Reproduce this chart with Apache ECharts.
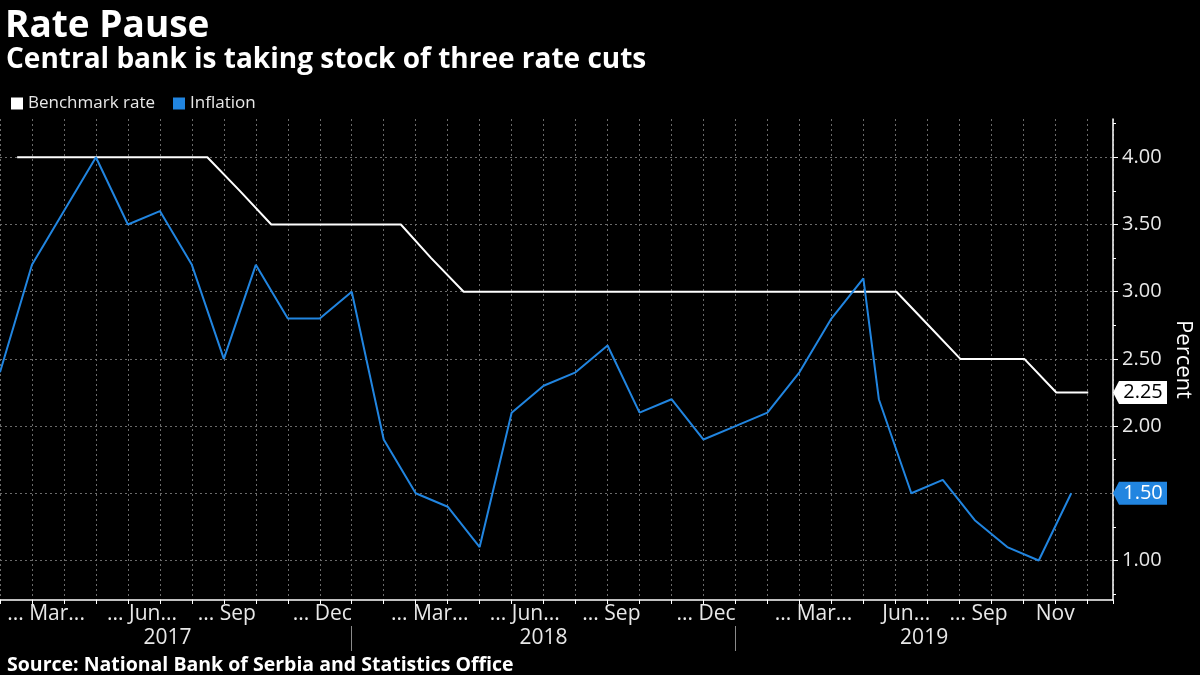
<!DOCTYPE html>
<html>
<head>
<meta charset="utf-8">
<script src="https://cdn.jsdelivr.net/npm/echarts@6/dist/echarts.min.js"></script>
<style>
html,body{margin:0;padding:0;background:#000;}
#chart{width:1200px;height:675px;}
</style>
</head>
<body>
<div id="chart"></div>
<script>
// ---------------- DATA ----------------
const inflationDates = [
  '2017-01-31','2017-02-28','2017-03-31','2017-04-30','2017-05-31','2017-06-30',
  '2017-07-31','2017-08-31','2017-09-30','2017-10-31','2017-11-30','2017-12-31',
  '2018-01-31','2018-02-28','2018-03-31','2018-04-30','2018-05-31','2018-06-30',
  '2018-07-31','2018-08-31','2018-09-30','2018-10-31','2018-11-30','2018-12-31',
  '2019-01-31','2019-02-28','2019-03-31','2019-04-30','2019-05-15','2019-06-15',
  '2019-07-15','2019-08-15','2019-09-15','2019-10-15','2019-11-15'
];
const inflationValues = [
  2.4, 3.2, 3.6, 4.0, 3.5, 3.6, 3.2, 2.5, 3.2, 2.8, 2.8, 3.0,
  1.9, 1.5, 1.4, 1.1, 2.1, 2.3, 2.4, 2.6, 2.1, 2.2, 1.9, 2.0,
  2.1, 2.4, 2.8, 3.1, 2.2, 1.5, 1.6, 1.3, 1.1, 1.0, 1.5
];
const benchmarkDates = [
  '2017-02-15','2017-03-15','2017-04-15','2017-05-15','2017-06-15','2017-07-15',
  '2017-08-15','2017-09-15','2017-10-15','2017-11-15','2017-12-15',
  '2018-01-15','2018-02-15','2018-03-15','2018-04-15','2018-05-15','2018-06-15',
  '2018-07-15','2018-08-15','2018-09-15','2018-10-15','2018-11-15','2018-12-15',
  '2019-01-15','2019-02-15','2019-03-15','2019-04-15','2019-05-15','2019-06-01',
  '2019-07-01','2019-08-01','2019-09-01','2019-10-01','2019-11-01','2019-12-01'
];
const benchmarkValues = [
  4.0, 4.0, 4.0, 4.0, 4.0, 4.0, 4.0, 3.75, 3.5, 3.5, 3.5,
  3.5, 3.5, 3.25, 3.0, 3.0, 3.0, 3.0, 3.0, 3.0, 3.0, 3.0, 3.0,
  3.0, 3.0, 3.0, 3.0, 3.0, 3.0, 2.75, 2.5, 2.5, 2.5, 2.25, 2.25
];
const monthLabelMonths = ['2017-03','2017-06','2017-09','2017-12','2018-03','2018-06','2018-09','2018-12','2019-03','2019-06','2019-09','2019-11'];
const monthLabelTexts = ['... Mar...','... Jun...','... Sep','... Dec','... Mar...','... Jun...','... Sep','... Dec','... Mar...','Jun...','... Sep','Nov'];
const yearLabels = ['2017','2018','2019'];
const yearBoundaryMonths = ['2018-01','2019-01'];
const yTickLabels = ['1.00','1.50','2.00','2.50','3.00','3.50','4.00'];
const yMinorTickLabels = ['0.75','1.25','1.75','2.25','2.75','3.25','3.75','4.25'];
const axisStartMonth = '2017-02';
const axisEndDate = '2019-12-25';
const yRange = [0.706, 4.285];

// ---------------- LAYOUT ----------------
const monthLabelShift = [0.44,0.44,0.09,0.08,0.44,0.41,0.12,0.08,0.44,0.34,-0.4,0.0];
const yearLabelPos = [5.24, 17.0, 28.9];
const FONT = 'Open Sans';
const BLUE = '#2185e0';

// month index relative to axis start (even month widths like the original)
const [sy, sm] = axisStartMonth.split('-').map(Number);
function daysIn(y, m) { return new Date(y, m, 0).getDate(); }
function monthPos(s) {
  const p = s.split('-').map(Number);
  const base = (p[0] - sy) * 12 + (p[1] - sm);
  return p.length > 2 ? base + p[2] / daysIn(p[0], p[1]) : base;
}
const xMax = monthPos(axisEndDate);
const inflationData = inflationDates.map((d, i) => [monthPos(d), inflationValues[i]]);
const benchmarkData = benchmarkDates.map((d, i) => [monthPos(d), benchmarkValues[i]]);

const monthLabelPos = monthLabelMonths.map((m, i) => +(monthPos(m) + monthLabelShift[i]).toFixed(4));
const monthLabelMap = {};
monthLabelPos.forEach((p, i) => { monthLabelMap[p.toFixed(3)] = monthLabelTexts[i]; });
const yearLabelMap = {};
yearLabelPos.forEach((p, i) => { yearLabelMap[p.toFixed(3)] = yearLabels[i]; });
const yearBoundaries = yearBoundaryMonths.map(monthPos);
const yTicks = yTickLabels.map(Number);
const yMinor = yMinorTickLabels.map(Number);

const tagPath = 'path://M0,11.5L6,0L54,0L54,23L6,23Z';
function tag(value, bg, fg) {
  return {
    silent: true,
    animation: false,
    symbol: tagPath,
    symbolSize: [54, 23],
    symbolOffset: [27, 0],
    symbolKeepAspect: false,
    itemStyle: { color: bg },
    label: {
      show: true, position: 'inside', offset: [3, 0],
      color: fg, fontSize: 20, fontFamily: FONT,
      formatter: () => value.toFixed(2)
    },
    data: [{ coord: [xMax, value], value: value }]
  };
}

const chart = echarts.init(document.getElementById('chart'), null, { renderer: 'canvas' });
chart.setOption({
  backgroundColor: '#000',
  animation: false,
  title: [
    { text: 'Rate Pause', left: 0, top: 3, textStyle: { color: '#fff', fontSize: 37, fontWeight: 'bold', fontFamily: FONT } },
    { text: 'Central bank is taking stock of three rate cuts', left: 1, top: 41, textStyle: { color: '#fff', fontSize: 28, fontWeight: 'bold', fontFamily: FONT } },
    { text: 'Source: National Bank of Serbia and Statistics Office', left: 2, top: 650, textStyle: { color: '#fff', fontSize: 19.5, fontWeight: 'bold', fontFamily: FONT } }
  ],
  legend: {
    left: 6, top: 90, icon: 'rect', itemWidth: 12, itemHeight: 12, itemGap: 18,
    textStyle: { color: '#e8e8e8', fontSize: 17, fontFamily: FONT },
    data: ['Benchmark rate', 'Inflation']
  },
  grid: { left: 0, right: 87, top: 119, bottom: 75, containLabel: false, outerBoundsMode: 'none' },
  xAxis: [
    {
      type: 'value', min: 0, max: xMax, interval: 1,
      axisLine: { show: true, onZero: false, lineStyle: { color: '#fff', width: 1.5 } },
      axisTick: { show: true, length: 4, lineStyle: { color: '#fff' } },
      splitLine: { show: true, lineStyle: { color: '#6a6a6a', width: 1, type: [2, 3] } },
      axisLabel: {
        customValues: monthLabelPos,
        color: '#e8e8e8', fontSize: 21, fontFamily: FONT, margin: 4,
        formatter: v => monthLabelMap[(+v).toFixed(3)] || ''
      }
    },
    {
      type: 'value', min: 0, max: xMax, position: 'bottom', offset: 26,
      axisLine: { show: false, onZero: false },
      axisTick: { show: true, customValues: yearBoundaries, length: 25, lineStyle: { color: '#8a8a8a', width: 1 } },
      splitLine: { show: false },
      axisLabel: {
        customValues: yearLabelPos,
        color: '#e8e8e8', fontSize: 21, fontFamily: FONT, margin: 2,
        formatter: v => yearLabelMap[(+v).toFixed(3)] || ''
      }
    }
  ],
  yAxis: [
    {
      type: 'value', position: 'right', min: yRange[0], max: yRange[1],
      axisLine: { show: true, onZero: false, lineStyle: { color: '#fff', width: 1.5 } },
      axisTick: { show: true, customValues: yTicks, length: 5, lineStyle: { color: '#fff' } },
      splitLine: { show: true, lineStyle: { color: '#6a6a6a', width: 1, type: [2, 3] } },
      axisLabel: {
        customValues: yTicks, color: '#e8e8e8', fontSize: 20, fontFamily: FONT, margin: 9,
        formatter: v => (+v).toFixed(2)
      },
      name: 'Percent', nameLocation: 'middle', nameRotate: -90, nameGap: 58,
      nameTextStyle: { color: '#fff', fontSize: 22, fontFamily: FONT }
    },
    {
      type: 'value', position: 'right', min: yRange[0], max: yRange[1],
      axisLine: { show: false, onZero: false },
      axisTick: { show: true, customValues: yMinor, length: 3, lineStyle: { color: '#fff' } },
      splitLine: { show: false },
      axisLabel: { show: false }
    }
  ],
  series: [
    {
      name: 'Benchmark rate', type: 'line', data: benchmarkData, symbol: 'none',
      color: '#ffffff', lineStyle: { color: '#ffffff', width: 2 },
      markPoint: tag(benchmarkValues[benchmarkValues.length - 1], '#ffffff', '#000000'),
      z: 3
    },
    {
      name: 'Inflation', type: 'line', data: inflationData, symbol: 'none',
      color: BLUE, lineStyle: { color: BLUE, width: 2 },
      markPoint: tag(inflationValues[inflationValues.length - 1], BLUE, '#ffffff'),
      z: 4
    }
  ]
});
</script>
</body>
</html>
